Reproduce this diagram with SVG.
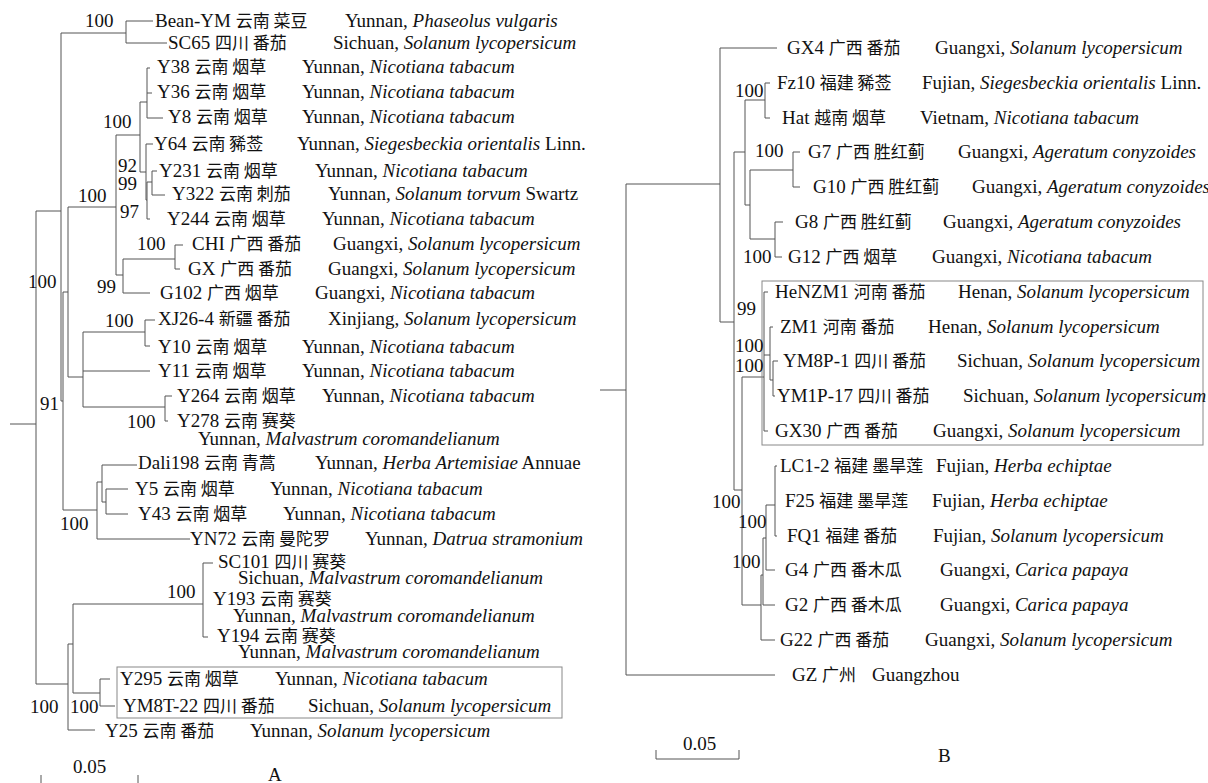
<svg xmlns="http://www.w3.org/2000/svg" width="1208" height="783" viewBox="0 0 1208 783">
<style>
.t{font-family:"Liberation Serif","Noto Sans CJK SC",serif;font-size:19px;fill:#111}
.c{font-family:"Noto Sans CJK SC",sans-serif;font-size:17px}
.i{font-style:italic}
.br{stroke:#555;stroke-width:1;fill:none}
.box{stroke:#888;stroke-width:1;fill:none}
</style>
<rect width="1208" height="783" fill="#fff"/>
<g id="connectors" class="br">
<path d="M10 424H36M36 211V684M36 211H61M61 33V401M61 33H126M126 21V43M126 21H153M126 43H167M61 401H63M63 292V510M63 292H68M68 207V377M68 207H116M116 135V275M116 135H140M140 102V172M140 102H147M147 68V118M147 68H150M147 93H152M147 118H163M140 172H146M146 144V200M146 144H153M146 200H147M147 182V219M147 182H152M152 171V195M152 171H157M152 195H165M147 219H150M116 275H123M123 259V293M123 259H175M175 245V269M175 245H183M175 269H180M123 293H150M68 377H83M83 332V407M83 332H145M145 320V346M145 320H155M145 346H150M83 371H150M83 407H165M165 396V421M165 396H172M165 421H168M63 510H97M97 482V539M97 482H102M102 465V502M102 465H137M102 502H106M106 489V514M106 489H128M106 514H128M97 539H190M36 684H68M68 644V730M68 644H73M73 604V693M73 604H203M203 563V637M203 563H213M203 637H208M73 693H100M100 679V706M100 679H110M100 706H115M68 730H95"/>
<path d="M600 390H626M626 184V675M626 184H720M720 48V322M720 48H777M720 322H734M734 152V490M734 152H745M745 100V205M745 100H765M765 83V118M765 83H770M765 118H770M745 205H750M750 170V239M750 170H793M793 152V187M793 152H800M793 187H800M750 239H775M775 222V257M775 222H783M775 257H782M734 490H742M742 377V605M742 377H764M764 292V431M764 292H768M764 431H768M764 355H770M770 327V380M770 327H773M770 380H773M773 361V396M773 361H778M773 396H775M742 605H761M761 575V640M761 575H763M763 538V605M763 538H766M766 505V570M766 505H775M775 466V536M775 466H777M775 536H777M766 570H775M763 605H775M761 640H775M626 675H775"/>
<path d="M41 775V783M138 775V783M656 750V759H739V750"/>
</g>
<g id="boxes">
<rect class="box" x="117" y="667" width="445" height="51"/>
<rect class="box" x="762" y="281" width="441" height="164"/>
</g>
<g id="bootstrap" class="t">
<text x="85" y="27">100</text>
<text x="103" y="128">100</text>
<text x="118" y="172">92</text>
<text x="118" y="190">99</text>
<text x="120" y="218">97</text>
<text x="78" y="202">100</text>
<text x="137" y="250">100</text>
<text x="97" y="293">99</text>
<text x="28" y="288">100</text>
<text x="105" y="327">100</text>
<text x="40" y="410">91</text>
<text x="127" y="428">100</text>
<text x="60" y="530">100</text>
<text x="167" y="598">100</text>
<text x="30" y="713">100</text>
<text x="70" y="713">100</text>
<text x="735" y="97">100</text>
<text x="755" y="157">100</text>
<text x="743" y="263">100</text>
<text x="737" y="315">99</text>
<text x="735" y="352">100</text>
<text x="735" y="372">100</text>
<text x="712" y="508">100</text>
<text x="738" y="528">100</text>
<text x="732" y="568">100</text>
</g>
<g class="t">
<g id="BeanYM"><text x="155" y="27">Bean-YM <tspan class="c">云南 菜豆</tspan></text><text x="345" y="27">Yunnan, <tspan class="i">Phaseolus vulgaris</tspan></text></g>
<g id="SC65"><text x="168" y="49">SC65 <tspan class="c">四川 番茄</tspan></text><text x="333" y="49">Sichuan, <tspan class="i">Solanum lycopersicum</tspan></text></g>
<g id="Y38"><text x="157" y="73">Y38 <tspan class="c">云南 烟草</tspan></text><text x="302" y="73">Yunnan, <tspan class="i">Nicotiana tabacum</tspan></text></g>
<g id="Y36"><text x="157" y="98">Y36 <tspan class="c">云南 烟草</tspan></text><text x="302" y="98">Yunnan, <tspan class="i">Nicotiana tabacum</tspan></text></g>
<g id="Y8"><text x="168" y="123">Y8 <tspan class="c">云南 烟草</tspan></text><text x="302" y="123">Yunnan, <tspan class="i">Nicotiana tabacum</tspan></text></g>
<g id="Y64"><text x="154" y="150">Y64 <tspan class="c">云南 豨莶</tspan></text><text x="297" y="150">Yunnan, <tspan class="i">Siegesbeckia orientalis</tspan> Linn.</text></g>
<g id="Y231"><text x="159" y="177">Y231 <tspan class="c">云南 烟草</tspan></text><text x="315" y="177">Yunnan, <tspan class="i">Nicotiana tabacum</tspan></text></g>
<g id="Y322"><text x="172" y="200">Y322 <tspan class="c">云南 刺茄</tspan></text><text x="328" y="200">Yunnan, <tspan class="i">Solanum torvum</tspan> Swartz</text></g>
<g id="Y244"><text x="167" y="225">Y244 <tspan class="c">云南 烟草</tspan></text><text x="322" y="225">Yunnan, <tspan class="i">Nicotiana tabacum</tspan></text></g>
<g id="CHI"><text x="192" y="250">CHI <tspan class="c">广西 番茄</tspan></text><text x="333" y="250">Guangxi, <tspan class="i">Solanum lycopersicum</tspan></text></g>
<g id="GX"><text x="188" y="275">GX <tspan class="c">广西 番茄</tspan></text><text x="328" y="275">Guangxi, <tspan class="i">Solanum lycopersicum</tspan></text></g>
<g id="G102"><text x="160" y="299">G102 <tspan class="c">广西 烟草</tspan></text><text x="315" y="299">Guangxi, <tspan class="i">Nicotiana tabacum</tspan></text></g>
<g id="XJ26-4"><text x="158" y="325">XJ26-4 <tspan class="c">新疆 番茄</tspan></text><text x="328" y="325">Xinjiang, <tspan class="i">Solanum lycopersicum</tspan></text></g>
<g id="Y10"><text x="158" y="353">Y10 <tspan class="c">云南 烟草</tspan></text><text x="302" y="353">Yunnan, <tspan class="i">Nicotiana tabacum</tspan></text></g>
<g id="Y11"><text x="158" y="377">Y11 <tspan class="c">云南 烟草</tspan></text><text x="302" y="377">Yunnan, <tspan class="i">Nicotiana tabacum</tspan></text></g>
<g id="Y264"><text x="177" y="402">Y264 <tspan class="c">云南 烟草</tspan></text><text x="322" y="402">Yunnan, <tspan class="i">Nicotiana tabacum</tspan></text></g>
<g id="Y278"><text x="177" y="427">Y278 <tspan class="c">云南 赛葵</tspan></text><text x="198" y="445">Yunnan, <tspan class="i">Malvastrum coromandelianum</tspan></text></g>
<g id="Dali198"><text x="138" y="469">Dali198 <tspan class="c">云南 青蒿</tspan></text><text x="315" y="469">Yunnan, <tspan class="i">Herba Artemisiae</tspan> Annuae</text></g>
<g id="Y5"><text x="135" y="495">Y5 <tspan class="c">云南 烟草</tspan></text><text x="270" y="495">Yunnan, <tspan class="i">Nicotiana tabacum</tspan></text></g>
<g id="Y43"><text x="138" y="520">Y43 <tspan class="c">云南 烟草</tspan></text><text x="283" y="520">Yunnan, <tspan class="i">Nicotiana tabacum</tspan></text></g>
<g id="YN72"><text x="190" y="545">YN72 <tspan class="c">云南 曼陀罗</tspan></text><text x="365" y="545">Yunnan, <tspan class="i">Datrua stramonium</tspan></text></g>
<g id="SC101"><text x="218" y="568">SC101 <tspan class="c">四川 赛葵</tspan></text><text x="238" y="584">Sichuan, <tspan class="i">Malvastrum coromandelianum</tspan></text></g>
<g id="Y193"><text x="213" y="605">Y193 <tspan class="c">云南 赛葵</tspan></text><text x="233" y="622">Yunnan, <tspan class="i">Malvastrum coromandelianum</tspan></text></g>
<g id="Y194"><text x="217" y="642">Y194 <tspan class="c">云南 赛葵</tspan></text><text x="238" y="658">Yunnan, <tspan class="i">Malvastrum coromandelianum</tspan></text></g>
<g id="Y295"><text x="120" y="685">Y295 <tspan class="c">云南 烟草</tspan></text><text x="275" y="685">Yunnan, <tspan class="i">Nicotiana tabacum</tspan></text></g>
<g id="YM8T-22"><text x="123" y="712">YM8T-22 <tspan class="c">四川 番茄</tspan></text><text x="308" y="712">Sichuan, <tspan class="i">Solanum lycopersicum</tspan></text></g>
<g id="Y25"><text x="105" y="737">Y25 <tspan class="c">云南 番茄</tspan></text><text x="250" y="737">Yunnan, <tspan class="i">Solanum lycopersicum</tspan></text></g>

<g id="GX4"><text x="787" y="54">GX4 <tspan class="c">广西 番茄</tspan></text><text x="935" y="54">Guangxi, <tspan class="i">Solanum lycopersicum</tspan></text></g>
<g id="Fz10"><text x="777" y="89">Fz10 <tspan class="c">福建 豨莶</tspan></text><text x="922" y="89">Fujian, <tspan class="i">Siegesbeckia orientalis</tspan> Linn.</text></g>
<g id="Hat"><text x="782" y="124">Hat <tspan class="c">越南 烟草</tspan></text><text x="920" y="124">Vietnam, <tspan class="i">Nicotiana tabacum</tspan></text></g>
<g id="G7"><text x="808" y="158">G7 <tspan class="c">广西 胜红蓟</tspan></text><text x="958" y="158">Guangxi, <tspan class="i">Ageratum conyzoides</tspan></text></g>
<g id="G10"><text x="813" y="193">G10 <tspan class="c">广西 胜红蓟</tspan></text><text x="972" y="193">Guangxi, <tspan class="i">Ageratum conyzoides</tspan></text></g>
<g id="G8"><text x="795" y="228">G8 <tspan class="c">广西 胜红蓟</tspan></text><text x="943" y="228">Guangxi, <tspan class="i">Ageratum conyzoides</tspan></text></g>
<g id="G12"><text x="788" y="263">G12 <tspan class="c">广西 烟草</tspan></text><text x="932" y="263">Guangxi, <tspan class="i">Nicotiana tabacum</tspan></text></g>
<g id="HeNZM1"><text x="775" y="298">HeNZM1 <tspan class="c">河南 番茄</tspan></text><text x="958" y="298">Henan, <tspan class="i">Solanum lycopersicum</tspan></text></g>
<g id="ZM1"><text x="780" y="333">ZM1 <tspan class="c">河南 番茄</tspan></text><text x="928" y="333">Henan, <tspan class="i">Solanum lycopersicum</tspan></text></g>
<g id="YM8P-1"><text x="783" y="367">YM8P-1 <tspan class="c">四川 番茄</tspan></text><text x="957" y="367">Sichuan, <tspan class="i">Solanum lycopersicum</tspan></text></g>
<g id="YM1P-17"><text x="777" y="402">YM1P-17 <tspan class="c">四川 番茄</tspan></text><text x="963" y="402">Sichuan, <tspan class="i">Solanum lycopersicum</tspan></text></g>
<g id="GX30"><text x="775" y="437">GX30 <tspan class="c">广西 番茄</tspan></text><text x="933" y="437">Guangxi, <tspan class="i">Solanum lycopersicum</tspan></text></g>
<g id="LC1-2"><text x="780" y="472">LC1-2 <tspan class="c">福建 墨旱莲</tspan></text><text x="936" y="472">Fujian, <tspan class="i">Herba echiptae</tspan></text></g>
<g id="F25"><text x="785" y="507">F25 <tspan class="c">福建 墨旱莲</tspan></text><text x="932" y="507">Fujian, <tspan class="i">Herba echiptae</tspan></text></g>
<g id="FQ1"><text x="787" y="542">FQ1 <tspan class="c">福建 番茄</tspan></text><text x="933" y="542">Fujian, <tspan class="i">Solanum lycopersicum</tspan></text></g>
<g id="G4"><text x="785" y="576">G4 <tspan class="c">广西 番木瓜</tspan></text><text x="940" y="576">Guangxi, <tspan class="i">Carica papaya</tspan></text></g>
<g id="G2"><text x="785" y="611">G2 <tspan class="c">广西 番木瓜</tspan></text><text x="940" y="611">Guangxi, <tspan class="i">Carica papaya</tspan></text></g>
<g id="G22"><text x="780" y="646">G22 <tspan class="c">广西 番茄</tspan></text><text x="925" y="646">Guangxi, <tspan class="i">Solanum lycopersicum</tspan></text></g>
<g id="GZ"><text x="792" y="681">GZ <tspan class="c">广州</tspan></text><text x="872" y="681">Guangzhou</text></g>
</g>
<g id="scales" class="t">
<text x="73" y="773">0.05</text>
<text x="268" y="781">A</text>
<text x="683" y="750">0.05</text>
<text x="938" y="762">B</text>
</g>
</svg>
